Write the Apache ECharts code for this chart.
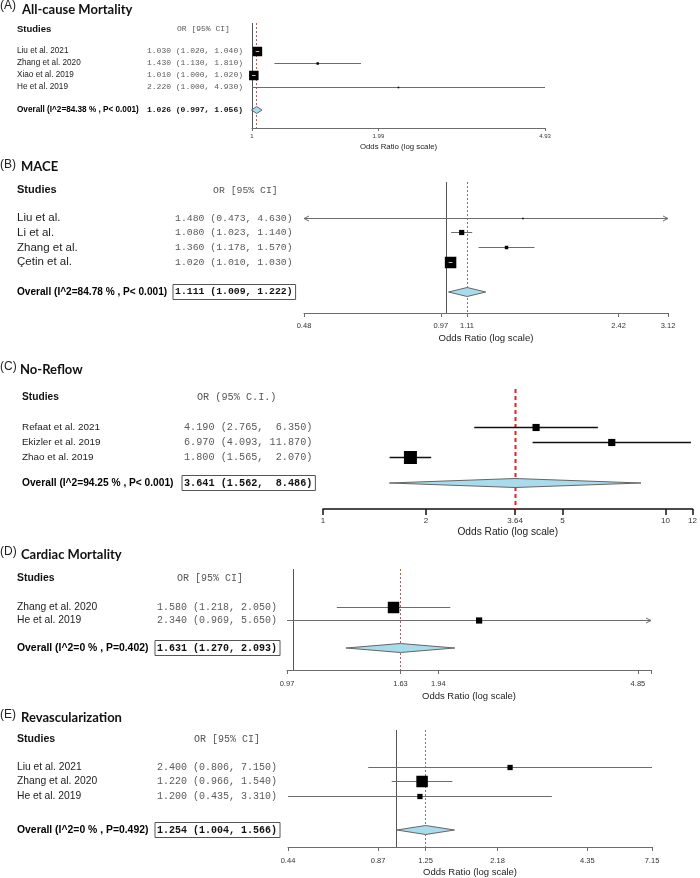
<!DOCTYPE html>
<html><head><meta charset="utf-8">
<script src="https://cdn.jsdelivr.net/npm/echarts@6/dist/echarts.min.js"></script>
<style>html,body{margin:0;padding:0;background:#fff}#c{width:700px;height:878px}</style>
</head><body><div id="c"></div>
<script>
// ---------- Panel A ----------
const letterA = '(A)';
const titleA = 'All-cause Mortality';
const studiesA = ['Liu et al. 2021', 'Zhang et al. 2020', 'Xiao et al. 2019', 'He et al. 2019'];
const orA = [1.030, 1.430, 1.010, 2.220];
const lowerA = [1.020, 1.130, 1.000, 1.000];
const upperA = [1.040, 1.810, 1.020, 4.930];
const weightA = [100, 26, 100, 16];
const overallA = [1.026, 0.997, 1.056];
const overallLabelA = 'Overall (I^2=84.38 % , P< 0.001)';
const headerA = 'OR [95% CI]';
const rangeA = [1, 4.93];
const ticksA = [1, 1.99, 4.93];
const tickLabelsA = ['1', '1.99', '4.93'];

// ---------- Panel B ----------
const letterB = '(B)';
const titleB = 'MACE';
const studiesB = ['Liu et al.', 'Li et al.', 'Zhang et al.', 'Çetin et al.'];
const orB = [1.480, 1.080, 1.360, 1.020];
const lowerB = [0.473, 1.023, 1.178, 1.010];
const upperB = [4.630, 1.140, 1.570, 1.030];
const weightB = [13, 45, 30, 100];
const overallB = [1.111, 1.009, 1.222];
const overallLabelB = 'Overall (I^2=84.78 % , P< 0.001)';
const headerB = 'OR [95% CI]';
const rangeB = [0.48, 3.12];
const ticksB = [0.48, 0.97, 1.11, 2.42, 3.12];
const tickLabelsB = ['0.48', '0.97', '1.11', '2.42', '3.12'];

// ---------- Panel C ----------
const letterC = '(C)';
const titleC = 'No-Reflow';
const studiesC = ['Refaat et al. 2021', 'Ekizler et al. 2019', 'Zhao et al. 2019'];
const orC = [4.190, 6.970, 1.800];
const lowerC = [2.765, 4.093, 1.565];
const upperC = [6.350, 11.870, 2.070];
const weightC = [55, 55, 100];
const overallC = [3.641, 1.562, 8.486];
const overallLabelC = 'Overall (I^2=94.25 % , P< 0.001)';
const headerC = 'OR (95% C.I.)';
const rangeC = [1, 12];
const ticksC = [1, 2, 3.64, 5, 10, 12];
const tickLabelsC = ['1', '2', '3.64', '5', '10', '12'];

// ---------- Panel D ----------
const letterD = '(D)';
const titleD = 'Cardiac Mortality';
const studiesD = ['Zhang et al. 2020', 'He et al. 2019'];
const orD = [1.580, 2.340];
const lowerD = [1.218, 0.969];
const upperD = [2.050, 5.650];
const weightD = [100, 54];
const overallD = [1.631, 1.270, 2.093];
const overallLabelD = 'Overall (I^2=0 % , P=0.402)';
const headerD = 'OR [95% CI]';
const rangeD = [0.969, 5.15];
const ticksD = [0.969, 1.631, 1.94, 4.85, 5.15];
const tickLabelsD = ['0.97', '1.63', '1.94', '4.85', ''];

// ---------- Panel E ----------
const letterE = '(E)';
const titleE = 'Revascularization';
const studiesE = ['Liu et al. 2021', 'Zhang et al. 2020', 'He et al. 2019'];
const orE = [2.400, 1.220, 1.200];
const lowerE = [0.806, 0.966, 0.435];
const upperE = [7.150, 1.540, 3.310];
const weightE = [46, 100, 46];
const overallE = [1.254, 1.004, 1.566];
const overallLabelE = 'Overall (I^2=0 % , P=0.492)';
const headerE = 'OR [95% CI]';
const rangeE = [0.435, 7.15];
const ticksE = [0.435, 0.87, 1.254, 2.18, 4.35, 7.15];
const tickLabelsE = ['0.44', '0.87', '1.25', '2.18', '4.35', '7.15'];

const axisTitle = 'Odds Ratio (log scale)';
const studiesHeader = 'Studies';

// ---------- layout / style (pixels) ----------
const SANS = '"Liberation Sans", Arial, sans-serif';
const MONO = '"Liberation Mono", "Courier New", monospace';
const TFONT = 'Lato, "Open Sans", sans-serif';
const grayStyle = {ciColor: '#6c6c6c', ciW: 1, dashColor: '#b36060', dash: [2, 2], dashW: 1, axisColor: '#6c6c6c', axisW: 1, nullColor: '#555'};
const layouts = [
  Object.assign({}, grayStyle, {first: 51, sp: 12, header: 29, overall: 110, top: 23, axis: 128, x0: 252, x1: 545,
    nameX: 17, valX: 147, orX: 177, titleX: 22, titleY: 10, letterY: 6, nameFont: 8.2, boldFont: 8.2, monoFont: 8,
    headFont: 9.5, maxBox: 9.5, diamondH: 7, tickFont: 6, tickLen: 3, labelMargin: 5, nameGap: 15, axisTitleFont: 7.8,
    boxed: false, nullLine: true, titleFont: 13}),
  Object.assign({}, grayStyle, {first: 218, sp: 14.7, header: 190, overall: 292, top: 182, axis: 313, x0: 304, x1: 668,
    nameX: 17, valX: 175, orX: 213, titleX: 21, titleY: 167, letterY: 165, nameFont: 11.5, boldFont: 10.1, monoFont: 9.8,
    headFont: 11, maxBox: 11.5, diamondH: 9, tickFont: 7.5, tickLen: 4, labelMargin: 9, nameGap: 20, axisTitleFont: 9.6,
    boxed: true, nullLine: true, titleFont: 13}),
  Object.assign({}, grayStyle, {first: 427, sp: 15, header: 397, overall: 483, top: 389, axis: 509, x0: 323, x1: 695,
    nameX: 22, valX: 184, orX: 197, titleX: 20, titleY: 370, letterY: 367, nameFont: 9.9, boldFont: 10.2, monoFont: 10.2,
    headFont: 10.2, maxBox: 13, diamondH: 9, tickFont: 8, tickLen: 6, labelMargin: 8, nameGap: 18, axisTitleFont: 10.2,
    boxed: true, nullLine: false, titleFont: 13,
    ciColor: '#111', ciW: 1.3, dashColor: '#e02424', dash: [4, 3], dashW: 2, axisColor: '#111', axisW: 1.5}),
  Object.assign({}, grayStyle, {first: 607, sp: 13, header: 578, overall: 648, top: 569, axis: 670, x0: 287, x1: 651,
    nameX: 17, valX: 157, orX: 177, titleX: 21, titleY: 555, letterY: 552, nameFont: 10.3, boldFont: 10.4, monoFont: 10,
    headFont: 10.4, maxBox: 11.5, diamondH: 9, tickFont: 7.5, tickLen: 4, labelMargin: 10, nameGap: 21, axisTitleFont: 9.5,
    boxed: true, nullLine: true, titleFont: 13}),
  Object.assign({}, grayStyle, {first: 767, sp: 14.5, header: 739, overall: 830, top: 730, axis: 847, x0: 288, x1: 652,
    nameX: 17, valX: 157, orX: 194, titleX: 21, titleY: 718, letterY: 715, nameFont: 10.3, boldFont: 10.4, monoFont: 10,
    headFont: 10.6, maxBox: 11.5, diamondH: 9, tickFont: 7.5, tickLen: 4, labelMargin: 9.5, nameGap: 20, axisTitleFont: 9.5,
    boxed: true, nullLine: true, titleFont: 13})
];

const panels = [
  {letter: letterA, title: titleA, studies: studiesA, or: orA, lo: lowerA, hi: upperA, w: weightA, overall: overallA, overallLabel: overallLabelA, orHeader: headerA, range: rangeA, ticks: ticksA, tickLabels: tickLabelsA},
  {letter: letterB, title: titleB, studies: studiesB, or: orB, lo: lowerB, hi: upperB, w: weightB, overall: overallB, overallLabel: overallLabelB, orHeader: headerB, range: rangeB, ticks: ticksB, tickLabels: tickLabelsB},
  {letter: letterC, title: titleC, studies: studiesC, or: orC, lo: lowerC, hi: upperC, w: weightC, overall: overallC, overallLabel: overallLabelC, orHeader: headerC, range: rangeC, ticks: ticksC, tickLabels: tickLabelsC},
  {letter: letterD, title: titleD, studies: studiesD, or: orD, lo: lowerD, hi: upperD, w: weightD, overall: overallD, overallLabel: overallLabelD, orHeader: headerD, range: rangeD, ticks: ticksD, tickLabels: tickLabelsD},
  {letter: letterE, title: titleE, studies: studiesE, or: orE, lo: lowerE, hi: upperE, w: weightE, overall: overallE, overallLabel: overallLabelE, orHeader: headerE, range: rangeE, ticks: ticksE, tickLabels: tickLabelsE}
];

function rowIdx(L, px) { return 1 + (px - L.first) / L.sp; }
function snap(v) { return Math.round(v) + 0.5; }

function ciText(p, e, l, h) {
  const all = p.hi.concat([p.overall[2]]).map(v => v.toFixed(3).length);
  const wH = Math.max.apply(null, all);
  return e.toFixed(3) + ' (' + l.toFixed(3) + ', ' + h.toFixed(3).padStart(wH) + ')';
}

const grids = [], xAxes = [], yAxes = [], series = [], graphics = [];

panels.forEach((p, k) => {
  const L = layouts[k];
  const yMin = rowIdx(L, L.top), yMax = rowIdx(L, L.axis);
  grids.push({left: L.x0, width: L.x1 - L.x0, top: L.top, height: L.axis - L.top});
  yAxes.push({gridIndex: k, type: 'value', inverse: true, min: yMin, max: yMax, show: false});
  xAxes.push({
    gridIndex: k, type: 'log', logBase: 10, min: p.range[0], max: p.range[1], position: 'bottom',
    axisLine: {show: true, onZero: false, lineStyle: {color: L.axisColor, width: L.axisW}},
    axisTick: {show: true, inside: false, length: L.tickLen, customValues: p.ticks, lineStyle: {color: L.axisColor, width: L.axisW}},
    axisLabel: {show: true, customValues: p.ticks, margin: L.labelMargin, fontSize: L.tickFont, fontFamily: SANS, color: '#333',
      formatter: function (v) {
        for (let i = 0; i < p.ticks.length; i++) if (Math.abs(p.ticks[i] - v) < 1e-4 * v) return p.tickLabels[i];
        return '';
      }},
    splitLine: {show: false}, minorTick: {show: false},
    name: axisTitle, nameLocation: 'middle', nameGap: L.nameGap,
    nameTextStyle: {fontSize: L.axisTitleFont, fontFamily: SANS, color: '#222', verticalAlign: 'top'}
  });

  // reference lines (null at 1, dashed at pooled estimate)
  const refVals = (L.nullLine ? [[1, yMin, 0]] : []).concat([[p.overall[0], yMin, 1]]);
  series.push({
    type: 'custom', xAxisIndex: k, yAxisIndex: k, clip: false, silent: true, z: 1,
    data: refVals, encode: {x: 0, y: 1},
    renderItem: function (params, api) {
      const x = snap(api.coord([api.value(0), yMin])[0] - 0.5);
      const y1 = api.coord([api.value(0), yMin])[1];
      const y2 = api.coord([api.value(0), yMax])[1];
      const dashed = api.value(2) === 1;
      return {type: 'line', shape: {x1: x, y1: y1, x2: x, y2: y2},
        style: dashed ? {stroke: L.dashColor, lineWidth: L.dashW, lineDash: L.dash} : {stroke: L.nullColor, lineWidth: 1}};
    }
  });

  // study estimates
  series.push({
    type: 'custom', xAxisIndex: k, yAxisIndex: k, clip: false, silent: true, z: 3,
    data: p.or.map((v, i) => [v, i + 1, p.lo[i], p.hi[i], p.w[i]]),
    encode: {x: 0, y: 1},
    renderItem: function (params, api) {
      const est = api.value(0), row = api.value(1), lo = api.value(2), hi = api.value(3), w = api.value(4);
      const y = snap(api.coord([est, row])[1] - 0.5);
      const cl = Math.max(lo, p.range[0]), ch = Math.min(hi, p.range[1]);
      const xLo = api.coord([cl, row])[0], xHi = api.coord([ch, row])[0], xE = api.coord([est, row])[0];
      const s = Math.max(1.6, L.maxBox * w / 100);
      const kids = [];
      kids.push({type: 'line', shape: {x1: xLo, y1: y, x2: xHi, y2: y}, style: {stroke: L.ciColor, lineWidth: L.ciW}});
      if (lo < p.range[0]) kids.push({type: 'polyline', shape: {points: [[xLo + 5, y - 2.5], [xLo, y], [xLo + 5, y + 2.5]]}, style: {stroke: L.ciColor, lineWidth: 1, fill: 'none'}});
      if (hi > p.range[1]) kids.push({type: 'polyline', shape: {points: [[xHi - 5, y - 2.5], [xHi, y], [xHi - 5, y + 2.5]]}, style: {stroke: L.ciColor, lineWidth: 1, fill: 'none'}});
      kids.push({type: 'rect', shape: {x: xE - s / 2, y: y - s / 2, width: s, height: s}, style: {fill: '#000'}});
      if (xHi - xLo < s) kids.push({type: 'line', shape: {x1: xLo, y1: y, x2: xHi, y2: y}, style: {stroke: '#bdbdbd', lineWidth: 1}});
      return {type: 'group', children: kids};
    }
  });

  // pooled diamond
  const oRow = rowIdx(L, L.overall);
  series.push({
    type: 'custom', xAxisIndex: k, yAxisIndex: k, clip: false, silent: true, z: 2,
    data: [[p.overall[0], oRow, p.overall[1], p.overall[2]]],
    encode: {x: 0, y: 1},
    renderItem: function (params, api) {
      const row = api.value(1);
      const c = api.coord([api.value(0), row]);
      const xl = api.coord([api.value(2), row])[0], xh = api.coord([api.value(3), row])[0];
      const h = L.diamondH / 2;
      return {type: 'polygon', shape: {points: [[xl, c[1]], [c[0], c[1] - h], [xh, c[1]], [c[0], c[1] + h]]},
        style: {fill: '#a8dcec', stroke: '#666', lineWidth: 1}};
    }
  });

  // text columns (rows follow the same y scale)
  const hRow = rowIdx(L, L.header);
  const textRows = [[p.range[0], hRow, 0]].concat(p.studies.map((s, i) => [p.range[0], i + 1, 1])).concat([[p.range[0], oRow, 2]]);
  series.push({
    type: 'custom', xAxisIndex: k, yAxisIndex: k, clip: false, silent: true, z: 4,
    data: textRows, encode: {x: 0, y: 1},
    renderItem: function (params, api) {
      const idx = params.dataIndex;
      const kind = api.value(2);
      const y = api.coord([api.value(0), api.value(1)])[1];
      const base = {verticalAlign: 'middle', textVerticalAlign: 'middle', align: 'left', textAlign: 'left'};
      const kids = [];
      if (kind === 0) {
        kids.push({type: 'text', style: Object.assign({}, base, {text: studiesHeader, x: L.nameX, y: y, font: 'bold ' + L.headFont + 'px ' + SANS, fill: '#111'})});
        kids.push({type: 'text', style: Object.assign({}, base, {text: p.orHeader, x: L.orX, y: y, font: L.monoFont + 'px ' + MONO, fill: '#555'})});
      } else if (kind === 1) {
        const i = idx - 1;
        kids.push({type: 'text', style: Object.assign({}, base, {text: p.studies[i], x: L.nameX, y: y, font: L.nameFont + 'px ' + SANS, fill: '#222'})});
        kids.push({type: 'text', style: Object.assign({}, base, {text: ciText(p, p.or[i], p.lo[i], p.hi[i]), x: L.valX, y: y, font: L.monoFont + 'px ' + MONO, fill: '#5a5a5a'})});
      } else {
        kids.push({type: 'text', style: Object.assign({}, base, {text: p.overallLabel, x: L.nameX, y: y, font: 'bold ' + L.boldFont + 'px ' + SANS, fill: '#000'})});
        const vs = Object.assign({}, base, {text: ciText(p, p.overall[0], p.overall[1], p.overall[2]), x: L.valX, y: y, font: 'bold ' + L.monoFont + 'px ' + MONO, fill: '#111'});
        if (L.boxed) Object.assign(vs, {x: L.valX - 2, borderColor: '#555', borderWidth: 1, padding: [3, 3, 2, 2]});
        kids.push({type: 'text', style: vs});
      }
      return {type: 'group', children: kids};
    }
  });

  graphics.push({type: 'text', x: 0, y: L.letterY, style: {text: p.letter, font: '12px ' + SANS, fill: '#222', verticalAlign: 'middle', textVerticalAlign: 'middle'}});
  graphics.push({type: 'text', x: L.titleX, y: L.titleY, style: {text: p.title, font: 'bold ' + L.titleFont + 'px ' + TFONT, fill: '#111', verticalAlign: 'middle', textVerticalAlign: 'middle'}});
});

const chart = echarts.init(document.getElementById('c'), null, {renderer: 'canvas'});
chart.setOption({
  animation: false,
  backgroundColor: '#fff',
  grid: grids, xAxis: xAxes, yAxis: yAxes, series: series, graphic: graphics
});
</script></body></html>
